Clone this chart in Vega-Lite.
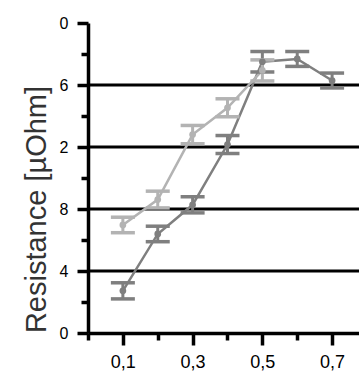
{
  "$schema": "https://vega.github.io/schema/vega-lite/v6.json",
  "autosize": {"type": "none"},
  "padding": {"left": 88, "top": 23, "right": 0, "bottom": 40},
  "width": 272,
  "height": 310,
  "background": "white",
  "config": {"view": {"stroke": null}, "font": "Liberation Sans"},
  "datasets": {
    "grid": [{"v": 4}, {"v": 8}, {"v": 12}, {"v": 16}],
    "main": [
      {"x": 0.1, "series": "S1", "y": 2.72, "lo": 2.2, "hi": 3.24},
      {"x": 0.2, "series": "S1", "y": 6.39, "lo": 5.89, "hi": 6.89},
      {"x": 0.3, "series": "S1", "y": 8.27, "lo": 7.75, "hi": 8.79},
      {"x": 0.4, "series": "S1", "y": 12.16, "lo": 11.58, "hi": 12.74},
      {"x": 0.5, "series": "S1", "y": 17.5, "lo": 16.84, "hi": 18.16},
      {"x": 0.6, "series": "S1", "y": 17.68, "lo": 17.2, "hi": 18.16},
      {"x": 0.7, "series": "S1", "y": 16.29, "lo": 15.81, "hi": 16.77},
      {"x": 0.1, "series": "S2", "y": 6.97, "lo": 6.47, "hi": 7.47},
      {"x": 0.2, "series": "S2", "y": 8.61, "lo": 8.07, "hi": 9.15},
      {"x": 0.3, "series": "S2", "y": 12.8, "lo": 12.21, "hi": 13.39},
      {"x": 0.4, "series": "S2", "y": 14.53, "lo": 13.95, "hi": 15.11},
      {"x": 0.5, "series": "S2", "y": 16.94, "lo": 16.26, "hi": 17.62}
    ]
  },
  "encoding": {
    "y": {
      "field": "v",
      "type": "quantitative",
      "scale": {"domain": [0, 20], "nice": false},
      "axis": {
        "values": [0, 2, 4, 6, 8, 10, 12, 14, 16, 18, 20],
        "title": "Resistance [µOhm]",
        "titleFont": "Liberation Sans",
        "titleFontSize": 29,
        "titleFontWeight": "normal",
        "titleColor": "#333333",
        "titleAngle": -90,
        "titleAlign": "center",
        "titleBaseline": "alphabetic",
        "titleX": -43,
        "titleY": 186,
        "labelExpr": "datum.value % 4 == 0 ? slice(toString(datum.value), -1) : ''",
        "labelFont": "Liberation Sans",
        "labelFontSize": 16,
        "labelColor": "black",
        "labelPadding": 9,
        "labelFlush": false,
        "labelOverlap": false,
        "tickSize": {"condition": {"test": "datum.value % 4 == 0", "value": 11}, "value": 7},
        "tickWidth": 3.5,
        "tickColor": "black",
        "domainColor": "black",
        "domainWidth": 3.5,
        "grid": false
      }
    }
  },
  "layer": [
    {
      "data": {"name": "grid"},
      "mark": {"type": "rule", "strokeWidth": 3, "color": "black"}
    },
    {
      "data": {"name": "main"},
      "transform": [{"fold": ["y", "lo", "hi"], "as": ["k", "v"]}],
      "encoding": {
        "x": {
          "field": "x",
          "type": "quantitative",
          "scale": {"domain": [0, 0.78], "nice": false, "zero": false},
          "axis": {
            "title": null,
            "grid": false,
            "values": [0, 0.1, 0.2, 0.3, 0.4, 0.5, 0.6, 0.7],
            "labelExpr": "round(datum.value*10) % 2 == 1 ? replace(format(datum.value, '.1f'), '.', ',') : ''",
            "labelFont": "Liberation Sans",
            "labelFontSize": 18,
            "labelColor": "black",
            "labelPadding": 8,
            "labelFlush": false,
            "labelOverlap": false,
            "tickSize": {"condition": {"test": "round(datum.value*10) % 2 == 1", "value": 12}, "value": 7},
            "tickWidth": 3.5,
            "tickColor": "black",
            "domainColor": "black",
            "domainWidth": 3.5
          }
        },
        "color": {
          "field": "series",
          "type": "nominal",
          "scale": {"domain": ["S1", "S2"], "range": ["#7f7f7f", "#b3b3b3"]},
          "legend": null
        }
      },
      "layer": [
        {
          "transform": [{"filter": "datum.k == 'y'"}],
          "mark": {"type": "line", "strokeWidth": 2.5}
        },
        {
          "transform": [{"filter": "datum.k != 'y'"}],
          "mark": {"type": "line", "strokeWidth": 3},
          "encoding": {"detail": {"field": "x", "type": "nominal"}}
        },
        {
          "transform": [{"filter": "datum.k != 'y'"}],
          "mark": {"type": "tick", "orient": "horizontal", "size": 24, "thickness": 3.5, "opacity": 1}
        },
        {
          "transform": [{"filter": "datum.k == 'y'"}],
          "mark": {"type": "point", "filled": true, "size": 45, "opacity": 1}
        }
      ]
    }
  ]
}
